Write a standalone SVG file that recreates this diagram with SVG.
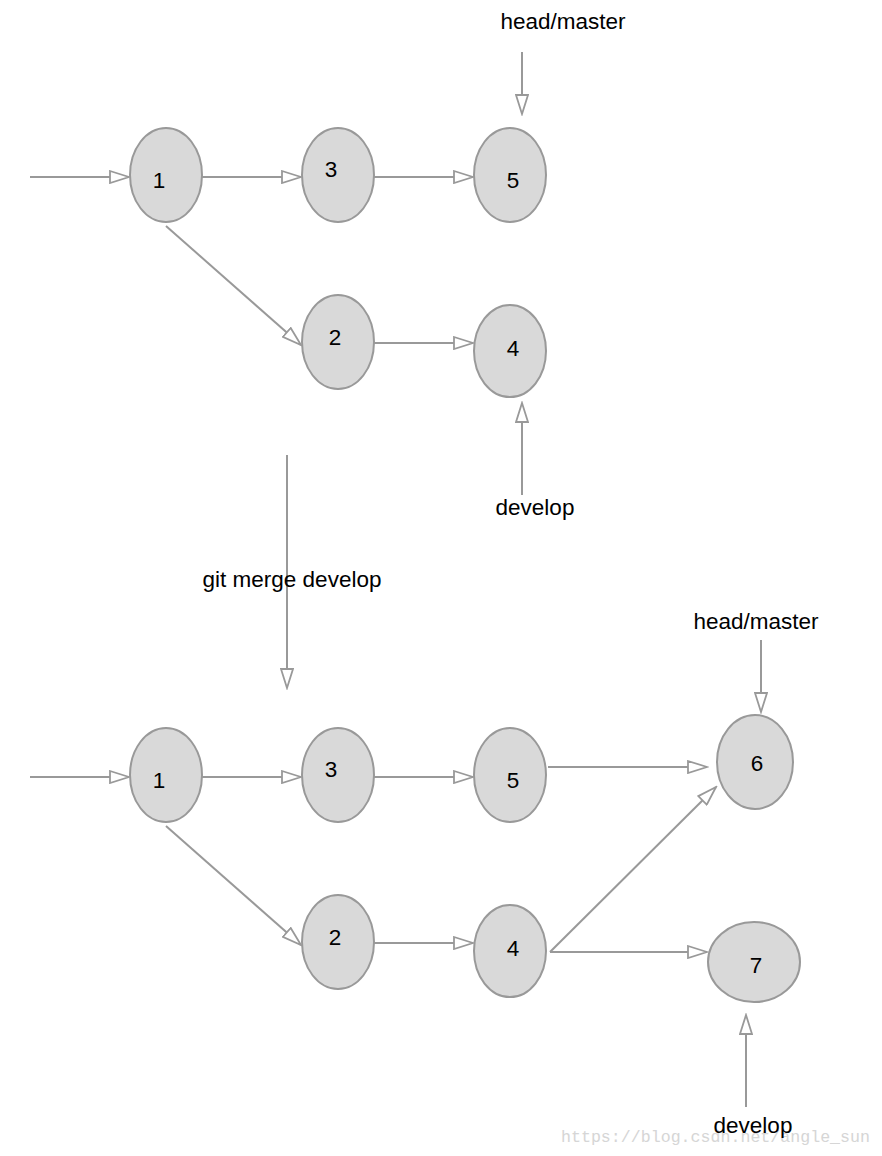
<svg xmlns="http://www.w3.org/2000/svg" width="882" height="1156" viewBox="0 0 882 1156">
<style>
.n{fill:#d9d9d9;stroke:#999;stroke-width:2}
.t{font-family:"Liberation Sans",Arial,sans-serif;font-size:22.5px;fill:#000;text-anchor:middle}
.c line{stroke:#999;stroke-width:2;fill:none;marker-end:url(#a)}
.w{font-family:"Liberation Mono",monospace;font-size:17px;fill:#ccc;opacity:0.8}
</style>
<defs><marker id="a" markerWidth="22" markerHeight="14" refX="20" refY="7" orient="auto" markerUnits="userSpaceOnUse"><path d="M1,1 L20,7 L1,13 Z" fill="#fff" stroke="#999" stroke-width="1.8"/></marker></defs>
<rect width="882" height="1156" fill="#fff"/>
<g class="c">
<line x1="30" y1="177" x2="129" y2="177"/>
<line x1="202" y1="177" x2="301" y2="177"/>
<line x1="374" y1="177" x2="473" y2="177"/>
<line x1="166" y1="226" x2="301" y2="345"/>
<line x1="374" y1="343" x2="473" y2="343"/>
<line x1="522" y1="52" x2="522" y2="114"/>
<line x1="522" y1="495" x2="522" y2="403"/>
<line x1="287" y1="455" x2="287" y2="688"/>
<line x1="30" y1="777" x2="129" y2="777"/>
<line x1="202" y1="777" x2="301" y2="777"/>
<line x1="374" y1="777" x2="473" y2="777"/>
<line x1="166" y1="826" x2="301" y2="945"/>
<line x1="374" y1="943" x2="473" y2="943"/>
<line x1="548" y1="767" x2="707" y2="767"/>
<line x1="550" y1="952" x2="716" y2="787"/>
<line x1="550" y1="952" x2="707" y2="952"/>
<line x1="761" y1="640" x2="761" y2="712"/>
<line x1="746" y1="1107" x2="746" y2="1015"/>
</g>
<g id="n1"><ellipse class="n" cx="166" cy="175" rx="36" ry="47"/><text class="t" x="159" y="188">1</text></g>
<g id="n3"><ellipse class="n" cx="338" cy="175" rx="36" ry="47"/><text class="t" x="331" y="177">3</text></g>
<g id="n5"><ellipse class="n" cx="510" cy="175" rx="36" ry="47"/><text class="t" x="513" y="188">5</text></g>
<g id="n2"><ellipse class="n" cx="338" cy="342" rx="36" ry="47"/><text class="t" x="335" y="345">2</text></g>
<g id="n4"><ellipse class="n" cx="510" cy="351" rx="36" ry="46"/><text class="t" x="513" y="356">4</text></g>
<g id="b1"><ellipse class="n" cx="166" cy="775" rx="36" ry="47"/><text class="t" x="159" y="788">1</text></g>
<g id="b3"><ellipse class="n" cx="338" cy="775" rx="36" ry="47"/><text class="t" x="331" y="777">3</text></g>
<g id="b5"><ellipse class="n" cx="510" cy="775" rx="36" ry="47"/><text class="t" x="513" y="788">5</text></g>
<g id="b2"><ellipse class="n" cx="338" cy="942" rx="36" ry="47"/><text class="t" x="335" y="945">2</text></g>
<g id="b4"><ellipse class="n" cx="510" cy="951" rx="36" ry="46"/><text class="t" x="513" y="956">4</text></g>
<g id="b6"><ellipse class="n" cx="755" cy="762" rx="38" ry="47"/><text class="t" x="757" y="771">6</text></g>
<g id="b7"><ellipse class="n" cx="754" cy="962" rx="46" ry="40"/><text class="t" x="756" y="973">7</text></g>
<g id="labels">
<text class="t" x="563" y="29">head/master</text>
<text class="t" x="535" y="515">develop</text>
<text class="t" x="292" y="587">git merge develop</text>
<text class="t" x="756" y="629">head/master</text>
<text class="w" x="561" y="1142" textLength="309" lengthAdjust="spacingAndGlyphs">https://blog.csdn.net/angle_sun</text>
<text class="t" x="753" y="1133">develop</text>
</g>
</svg>
